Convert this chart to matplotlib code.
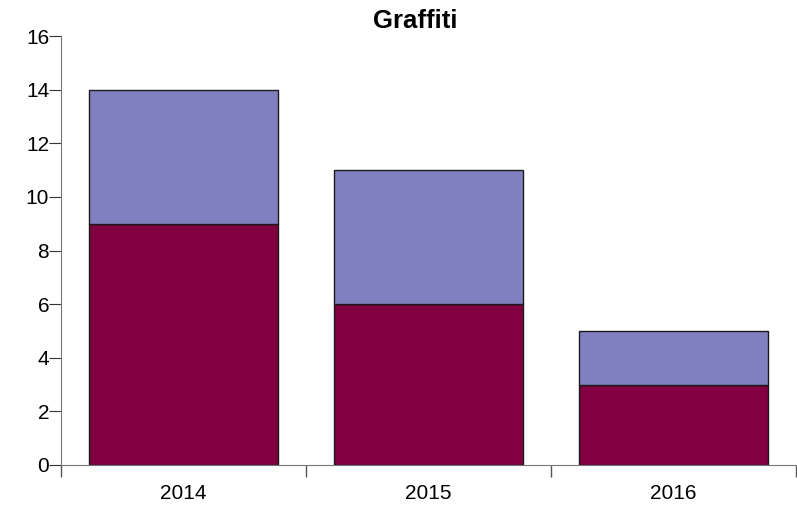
import matplotlib
matplotlib.use('Agg')
import matplotlib.pyplot as plt

years = ['2014', '2015', '2016']
bottom_vals = [9, 6, 3]
top_vals = [5, 5, 2]

plt.rcParams['font.family'] = ['Liberation Sans', 'DejaVu Sans']

fig = plt.figure(figsize=(7.97, 5.05), dpi=100)
W, H = 797, 505
ax = fig.add_axes([61 / W, 1 - 465 / H, (796 - 61) / W, (465 - 36) / H])

x = list(range(len(years)))
ax.bar(x, bottom_vals, width=0.77, color='#800040', edgecolor='#1a1a1a', linewidth=1)
ax.bar(x, top_vals, width=0.77, bottom=bottom_vals, color='#8080c0', edgecolor='#1a1a1a', linewidth=1)

ax.set_xlim(-0.5, 2.5)
ax.set_ylim(0, 16)
ax.set_yticks(range(0, 17, 2))
# category boundaries get the tick marks, labels sit in between
ax.set_xticks([-0.5, 0.5, 1.5, 2.5])
ax.set_xticklabels([])
ax.set_xticks(x, minor=True)
ax.set_xticklabels(years, minor=True)
ax.tick_params(axis='x', which='minor', length=0, labelsize=15, pad=14)
ax.tick_params(axis='x', which='major', length=8.5, color='#555555', width=1)
ax.tick_params(axis='y', length=8.5, color='#333333', labelsize=15, pad=0)

for s in ['top', 'right']:
    ax.spines[s].set_visible(False)
for s in ['left', 'bottom']:
    ax.spines[s].set_color('#777777')

fig.text(415.5 / W, 1 - 21 / H, 'Graffiti', ha='center', va='center',
         fontsize=18.5, fontweight='bold')

fig.savefig('out.png', dpi=100)
